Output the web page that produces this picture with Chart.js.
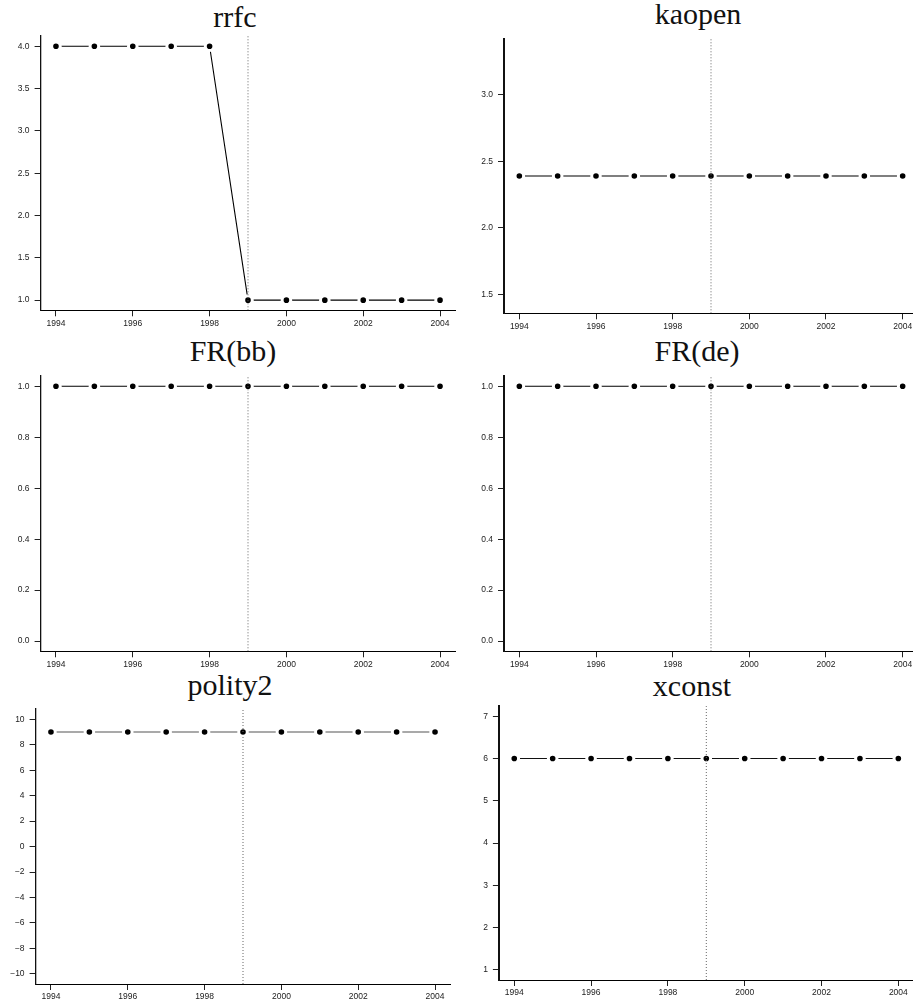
<!DOCTYPE html>
<html>
<head>
<meta charset="utf-8">
<script src="https://cdn.jsdelivr.net/npm/chart.js@4.4.0/dist/chart.umd.min.js"></script>
<style>
    html, body { margin: 0; padding: 0; background: #fff; width: 913px; height: 1006px; overflow: hidden; }
    .panel { position: absolute; }
    .title {
        position: absolute;
        width: 300px;
        text-align: center;
        font-family: 'Liberation Serif', 'Times New Roman', serif;
        font-size: 30px;
        line-height: 30px;
        color: #111;
        white-space: nowrap;
    }
</style>
</head>
<body>

<div class="title" style="left:85px; top:2px;">rrfc</div>
<div class="title" style="left:548px; top:-1px;">kaopen</div>
<div class="title" style="left:83px; top:336px;">FR(bb)</div>
<div class="title" style="left:547px; top:336px;">FR(de)</div>
<div class="title" style="left:80px; top:670px;">polity2</div>
<div class="title" style="left:542px; top:671px;">xconst</div>

<canvas id="chart-1" class="panel"></canvas>
<canvas id="chart-2" class="panel"></canvas>
<canvas id="chart-3" class="panel"></canvas>
<canvas id="chart-4" class="panel"></canvas>
<canvas id="chart-5" class="panel"></canvas>
<canvas id="chart-6" class="panel"></canvas>

<script>
// data
const years = [1994, 1995, 1996, 1997, 1998, 1999, 2000, 2001, 2002, 2003, 2004]
const yearTicks = [1994, 1996, 1998, 2000, 2002, 2004]
const breakYear = 1999

const rrfc = [4, 4, 4, 4, 4, 1, 1, 1, 1, 1, 1]
const kaopen = [2.389, 2.389, 2.389, 2.389, 2.389, 2.389, 2.389, 2.389, 2.389, 2.389, 2.389]
const frBB = [1, 1, 1, 1, 1, 1, 1, 1, 1, 1, 1]
const frDE = [1, 1, 1, 1, 1, 1, 1, 1, 1, 1, 1]
const polity2 = [9, 9, 9, 9, 9, 9, 9, 9, 9, 9, 9]
const xconst = [6, 6, 6, 6, 6, 6, 6, 6, 6, 6, 6]

// y tick values
const rrfcTicks = [1.0, 1.5, 2.0, 2.5, 3.0, 3.5, 4.0]
const kaopenTicks = [1.5, 2.0, 2.5, 3.0]
const frTicks = [0.0, 0.2, 0.4, 0.6, 0.8, 1.0]
const polityTicks = [-10, -8, -6, -4, -2, 0, 2, 4, 6, 8, 10]
const xconstTicks = [1, 2, 3, 4, 5, 6, 7]

const oneDec = v => v.toFixed(1)
const intMinus = v => (v < 0 ? '\u2212' + Math.abs(v) : String(v))

const tickFont = { family: "'Liberation Sans', Arial, sans-serif", size: 8.5 }


function makePanel(id, values, yTicks, fmt, yMin, yMax, box, lineColor) {
    const cv = document.getElementById(id);
    const top = Math.floor(box.t) - 8;
    const W = Math.ceil(box.r) + 1 - box.col;
    const H = Math.ceil(box.b) + 22 - top;
    cv.width = W;
    cv.height = H;
    cv.style.left = box.col + 'px';
    cv.style.top = top + 'px';
    cv.style.width = W + 'px';
    cv.style.height = H + 'px';

    const padTop = box.t - top;
    const padRight = W - (box.r - box.col);
    const yW = box.l - box.col;
    const xH = H - (box.b - top);

    new Chart(cv, {
        type: 'line',
        data: {
            datasets: [
                {
                    // dotted reference line
                    data: [{ x: breakYear, y: yMin }, { x: breakYear, y: yMax }],
                    borderColor: '#666',
                    borderWidth: 1,
                    borderDash: [1, 2],
                    pointRadius: 0
                },
                {
                    data: years.map((yr, i) => ({ x: yr, y: values[i] })),
                    borderColor: lineColor,
                    borderWidth: 1.1,
                    pointRadius: 4.3,
                    pointBorderWidth: 3,
                    pointBorderColor: '#fff',
                    pointBackgroundColor: '#000',
                    tension: 0
                }
            ]
        },
        options: {
            responsive: false,
            animation: false,
            events: [],
            layout: {
                autoPadding: false,
                padding: { top: padTop, right: padRight, left: 0, bottom: 0 }
            },
            plugins: {
                legend: { display: false },
                tooltip: { enabled: false },
                title: { display: false }
            },
            scales: {
                x: {
                    type: 'linear',
                    min: 1993.6,
                    max: 2004.4,
                    afterBuildTicks: s => { s.ticks = yearTicks.map(v => ({ value: v })) },
                    afterFit: s => { s.height = xH },
                    border: { display: true, color: '#000', width: 1 },
                    grid: { drawOnChartArea: false, drawTicks: true, tickLength: 6, color: '#222' },
                    ticks: {
                        color: '#222',
                        font: tickFont,
                        padding: 2,
                        maxRotation: 0,
                        autoSkip: false,
                        callback: v => String(v)
                    }
                },
                y: {
                    type: 'linear',
                    min: yMin,
                    max: yMax,
                    afterBuildTicks: s => { s.ticks = yTicks.map(v => ({ value: v })) },
                    afterFit: s => { s.width = yW },
                    border: { display: true, color: '#111', width: box.col > 0 ? 2 : 1.3 },
                    grid: { drawOnChartArea: false, drawTicks: true, tickLength: 6, color: '#222' },
                    ticks: {
                        color: '#222',
                        font: tickFont,
                        padding: 5,
                        autoSkip: false,
                        callback: v => fmt(v)
                    }
                }
            }
        }
    });
}

////////////////////////////////////////////// Chart-1
makePanel('chart-1', rrfc, rrfcTicks, oneDec, 0.88, 4.12,
    { col: 0, l: 40.6, r: 455.4, t: 34.3, b: 310.3 }, '#000');

////////////////////////////////////////////// Chart-2
makePanel('chart-2', kaopen, kaopenTicks, oneDec, 1.358, 3.418,
    { col: 455, l: 504, r: 918, t: 37.3, b: 313.3 }, '#000');

////////////////////////////////////////////// Chart-3
makePanel('chart-3', frBB, frTicks, oneDec, -0.04, 1.04,
    { col: 0, l: 40.6, r: 455.4, t: 374, b: 651.3 }, '#000');

////////////////////////////////////////////// Chart-4
makePanel('chart-4', frDE, frTicks, oneDec, -0.04, 1.04,
    { col: 455, l: 504, r: 918, t: 374, b: 651.3 }, '#000');

////////////////////////////////////////////// Chart-5
makePanel('chart-5', polity2, polityTicks, intMinus, -10.8, 10.8,
    { col: 0, l: 35.6, r: 450.4, t: 707.7, b: 984 }, '#555');

////////////////////////////////////////////// Chart-6
makePanel('chart-6', xconst, xconstTicks, intMinus, 0.76, 7.24,
    { col: 455, l: 498.9, r: 913.7, t: 704, b: 980 }, '#111');
</script>
</body>
</html>
